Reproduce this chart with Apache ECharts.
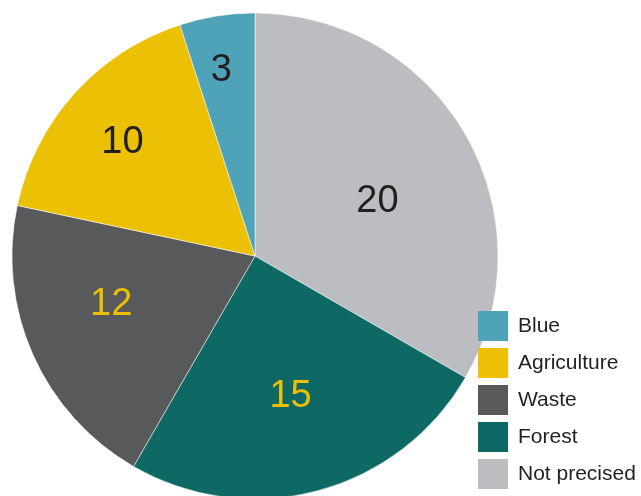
<!DOCTYPE html>
<html>
<head>
<meta charset="utf-8">
<script src="https://cdn.jsdelivr.net/npm/echarts@6/dist/echarts.min.js"></script>
<style>html,body{margin:0;padding:0;background:#fff;}#c{width:641px;height:496px;}</style>
</head>
<body>
<div id="c"></div>
<script>
// Data (clockwise from top)
var categories = ['Not precised', 'Forest', 'Waste', 'Agriculture', 'Blue'];
var values = [20, 15, 12, 10, 3];
var legendOrder = ['Blue', 'Agriculture', 'Waste', 'Forest', 'Not precised'];

// Styles
var colors = ['#bcbdc0', '#0e6863', '#58595b', '#ebc005', '#4fa3b8'];
var labelColors = ['#231f20', '#ebc005', '#ebc005', '#231f20', '#231f20'];
var labelRadiusFrac = [0.556, 0.585, 0.62, 0.725, 0.788];
var labelAngleShift = [5, 0.5, 6.6, -0.8, -1.1];
var labelDy = 3;

var CX = 255, CY = 256, R = 243;
var total = values.reduce(function (a, b) { return a + b; }, 0);

var chart = echarts.init(document.getElementById('c'));
chart.setOption({
  animation: false,
  color: colors,
  legend: {
    orient: 'vertical',
    left: 478,
    top: 311,
    padding: 0,
    height: 185,
    itemWidth: 30,
    itemHeight: 30,
    itemGap: 7,
    icon: 'rect',
    itemStyle: { borderWidth: 0 },
    data: legendOrder,
    textStyle: { fontFamily: 'Liberation Sans, Arial, sans-serif', fontSize: 21, color: '#231f20', padding: [0, 0, 0, 5] }
  },
  series: [{
    type: 'pie',
    center: [CX, CY],
    radius: [0, R],
    startAngle: 90,
    clockwise: true,
    avoidLabelOverlap: false,
    itemStyle: { borderColor: '#ffffff', borderWidth: 0.5 },
    label: {
      show: true,
      position: 'inside',
      formatter: '{c}',
      fontFamily: 'Liberation Sans, Arial, sans-serif',
      fontSize: 38
    },
    labelLine: { show: false },
    labelLayout: function (p) {
      var i = p.dataIndex;
      var cum = 0;
      for (var k = 0; k < i; k++) cum += values[k];
      var mid = (cum + values[i] / 2) / total * 360 + labelAngleShift[i];
      var a = mid * Math.PI / 180;
      var r = R * labelRadiusFrac[i];
      return { x: CX + r * Math.sin(a), y: CY - r * Math.cos(a) + labelDy, align: 'center', verticalAlign: 'middle' };
    },
    data: categories.map(function (n, i) {
      return { name: n, value: values[i], label: { color: labelColors[i] } };
    })
  }]
});
</script>
</body>
</html>
